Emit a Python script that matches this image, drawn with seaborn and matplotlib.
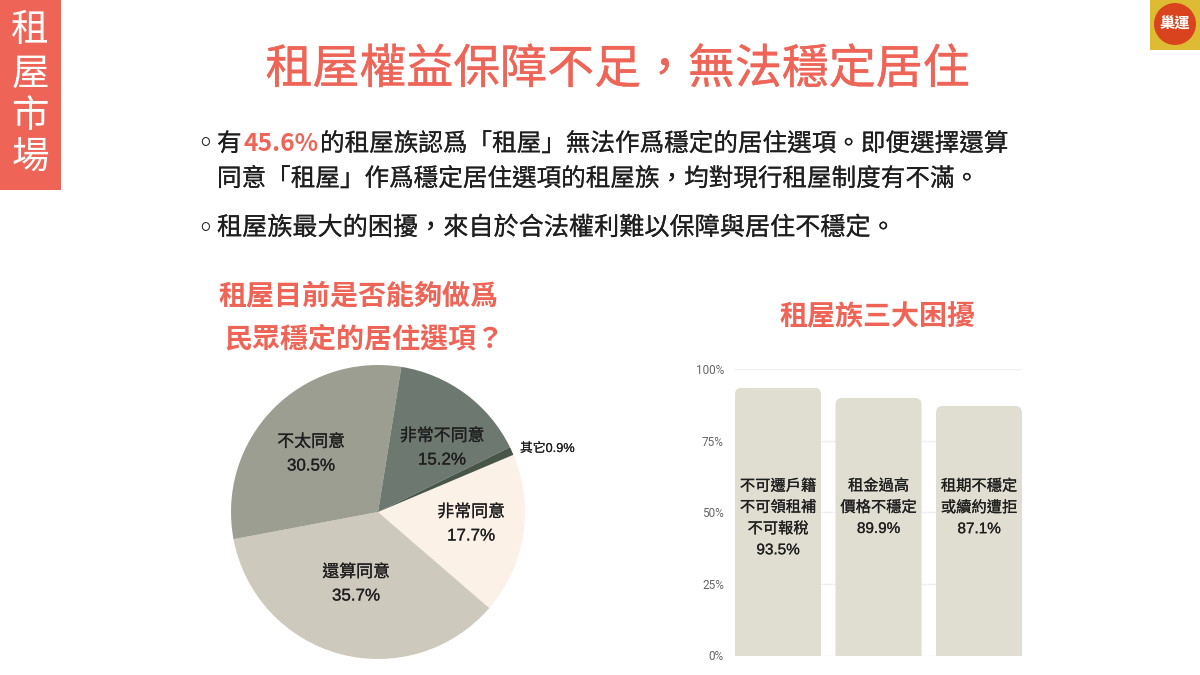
import matplotlib
matplotlib.use("Agg")
import matplotlib.pyplot as plt
import matplotlib.patheffects as pe
from matplotlib.patches import Rectangle, Ellipse, FancyBboxPatch
from matplotlib.transforms import IdentityTransform
import seaborn as sns

sns.set_theme(style="white")
plt.rcParams['font.family'] = ['Noto Sans CJK TC', 'DejaVu Sans']

pie_labels = ["非常同意", "還算同意", "不太同意", "非常不同意", "其它"]
pie_values = [17.7, 35.7, 30.5, 15.2, 0.9]
pie_colors = ["#FBF1E7", "#CDCABD", "#9B9E90", "#6D7970", "#48564A"]

bar_labels = ["不可遷戶籍\n不可領租補\n不可報稅", "租金過高\n價格不穩定", "租期不穩定\n或續約遭拒"]
bar_values = [93.5, 89.9, 87.1]
y_ticks = [0, 25, 50, 75, 100]

RED = "#EE6558"
BLACK = "#1E1E1E"
LABEL_FONT = ['Liberation Sans', 'Noto Sans CJK TC']
COMMA = "\uff0c"
QMARK = "\uff1f"

fig = plt.figure(figsize=(12, 6.75), dpi=100, facecolor="white")

def px(x, y):
    return x / 1200, 1 - y / 675

# no medium weight is installed, so a thin outline thickens the regular one
def put(x, y, s, size, color=BLACK, weight="regular", ha="left", stroke=0, family=None):
    fx, fy = px(x, y + 3)
    t = fig.text(fx, fy, s, fontsize=size, color=color, fontweight=weight, ha=ha, va="center")
    if family:
        t.set_family(family)
    if stroke:
        t.set_path_effects([pe.withStroke(linewidth=stroke, foreground=color)])
    return t

def box(x0, y0, w, h, color):
    fig.add_artist(Rectangle((x0 / 1200, 1 - (y0 + h) / 675), w / 1200, h / 675,
                             transform=fig.transFigure, facecolor=color, edgecolor="none"))

# side banner
box(0, 0, 61, 190, RED)
for ch, yy in zip("租屋市場", [27, 71, 113, 155]):
    put(30, yy, ch, 27, color="white", ha="center")

# logo
box(1150, 0, 50, 50, "#DDBB33")
fig.add_artist(Ellipse((1175 / 1200, 1 - 24 / 675), 42 / 1200, 42 / 675,
                       transform=fig.transFigure, facecolor="#D9441F", edgecolor="none"))
put(1175, 21, "巢運", 11, color="white", weight="bold", ha="center")

# titles
put(618, 67, f"租屋權益保障不足{COMMA}無法穩定居住", 33.8, color=RED, ha="center", stroke=0.3)
put(358.5, 293, "租屋目前是否能夠做爲", 20.2, color=RED, weight="bold", ha="center")
put(364, 336, f"民眾穩定的居住選項{QMARK}", 20.2, color=RED, weight="bold", ha="center")
put(877, 314, "租屋族三大困擾", 20.2, color=RED, weight="bold", ha="center")

# body text
FS = 17.7
put(205, 141, "◦", 20, ha="center")
put(205, 226, "◦", 20, ha="center")
put(217, 141, "有", FS, stroke=0.12)
put(243, 141, "45.6%", FS, color=RED, weight="bold")
put(320, 141, "的租屋族認爲「租屋」無法作爲穩定的居住選項。即便選擇還算", FS, stroke=0.12)
put(217, 176, f"同意「租屋」作爲穩定居住選項的租屋族{COMMA}均對現行租屋制度有不滿。", FS, stroke=0.12)
put(217, 225, f"租屋族最大的困擾{COMMA}來自於合法權利難以保障與居住不穩定。", 18.1, stroke=0.12)

# pie
ax_pie = fig.add_axes([231 / 1200, 1 - 659 / 675, 294 / 1200, 294 / 675])
ax_pie.pie(pie_values, colors=pie_colors, startangle=22.9, counterclock=False, radius=1,
           wedgeprops={"linewidth": 0, "edgecolor": "none"})
ax_pie.set_xlim(-1, 1)
ax_pie.set_ylim(-1, 1)
pie_text_pos = [(471, 509), (356, 569), (311, 439), (442, 433)]
for lab, val, (tx, ty) in zip(pie_labels, pie_values, pie_text_pos):
    put(tx, ty, lab, 12.2, ha="center", stroke=0.15, family=LABEL_FONT)
    put(tx, ty + 24, f"{val}%", 12.2, ha="center", stroke=0.15, family=LABEL_FONT)
put(520, 446, f"{pie_labels[4]}{pie_values[4]}%", 9.2, stroke=0.1, family=LABEL_FONT)

# bars
ax_bar = fig.add_axes([735 / 1200, 1 - 655.5 / 675, 287 / 1200, 286.5 / 675])
sns.barplot(x=bar_labels, y=bar_values, color="#E0DDD1", saturation=1, width=0.856,
            linewidth=0, edgecolor="none", ax=ax_bar)
ax_bar.set_xlim(-0.428, 2.428)
ax_bar.set_ylim(0, 100)
ax_bar.set_yticks(y_ticks)
ax_bar.set_yticklabels([f"{t}%" for t in y_ticks], fontsize=8.5, color="#666666",
                       family=["Roboto", "DejaVu Sans"])
ax_bar.set_xticks([])
ax_bar.set_xlabel("")
ax_bar.set_axisbelow(True)
ax_bar.yaxis.grid(True, color="#EFEFEF", linewidth=1)
ax_bar.tick_params(axis="y", length=0, pad=8)
sns.despine(ax=ax_bar, left=True, bottom=True)

# round the top corners of the bars
fig.canvas.draw()
for bar in ax_bar.patches:
    ext = bar.get_window_extent()
    clip = FancyBboxPatch((ext.x0, ext.y0 - 20), ext.width, ext.height + 20,
                          boxstyle="round,pad=0,rounding_size=7", transform=IdentityTransform())
    bar.set_clip_path(clip)

for i, (lab, val) in enumerate(zip(bar_labels, bar_values)):
    t = ax_bar.text(i, 61.5, f"{lab}\n{val}%", ha="center", va="top", fontsize=11, color=BLACK,
                    family=LABEL_FONT, linespacing=1.64)
    t.set_path_effects([pe.withStroke(linewidth=0.15, foreground=BLACK)])

fig.savefig("out.png", dpi=100)
